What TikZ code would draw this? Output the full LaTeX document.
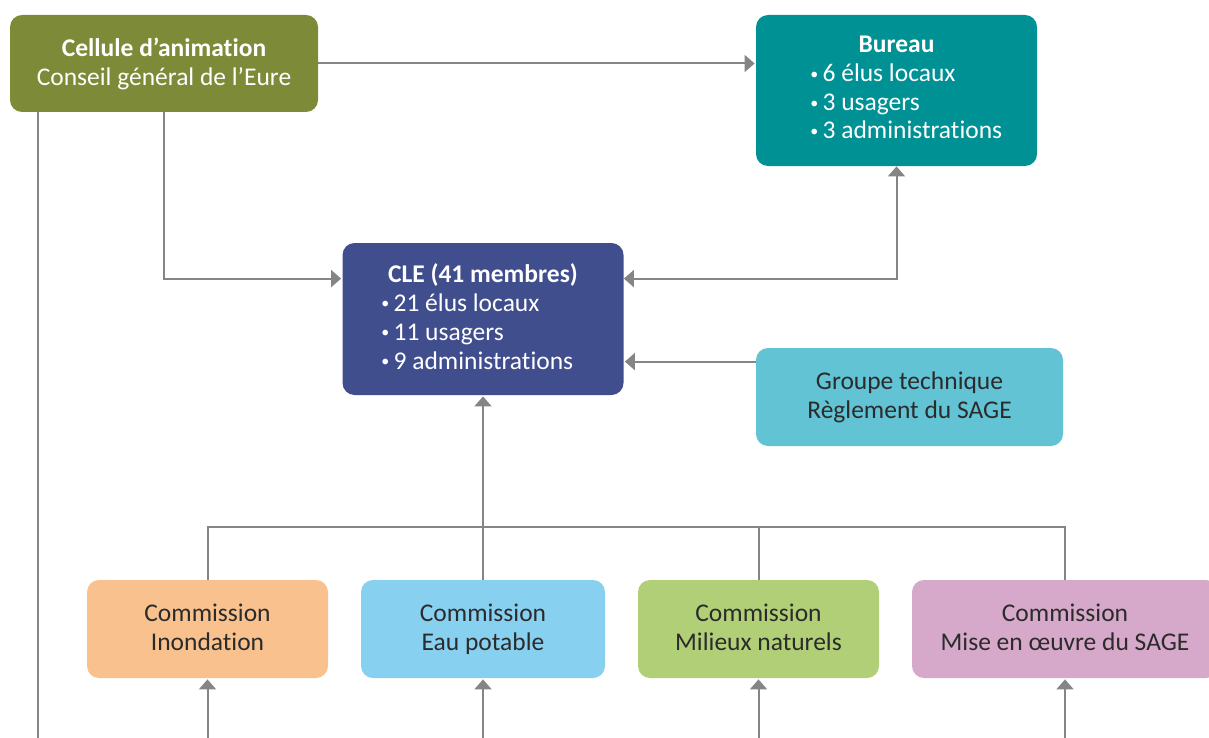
\documentclass[tikz,border=0pt]{standalone}
\usepackage{fontspec}
\setmainfont{Carlito}[Ligatures=NoCommon]
\usetikzlibrary{arrows.meta}
\definecolor{cellule}{HTML}{7D8A37}
\definecolor{bureau}{HTML}{009194}
\definecolor{cle}{HTML}{414E8E}
\definecolor{groupe}{HTML}{62C3D5}
\definecolor{inondation}{HTML}{F8C18E}
\definecolor{eau}{HTML}{88D0F0}
\definecolor{milieux}{HTML}{B1CF77}
\definecolor{mise}{HTML}{D6A8C9}
\definecolor{trait}{HTML}{858585}
\definecolor{texte}{HTML}{2B2B2B}
\newcommand{\pastille}{\raisebox{1.2pt}{\fontsize{8}{8}\selectfont•}\,}
\tikzset{
  boite/.style={rounded corners=6pt, inner sep=0pt, align=center, text=texte,
    font=\fontsize{12.75}{14.5}\selectfont, execute at end node=\vphantom{p}},
  sombre/.style={boite, text=white},
  titre/.style={inner sep=0pt, text=white, anchor=base,
    font=\fontsize{12.75}{14.5}\selectfont\bfseries},
  puce/.style={inner sep=0pt, text=white, anchor=base west,
    font=\fontsize{12.75}{14.5}\selectfont},
  lien/.style={draw=trait, line width=1pt},
  fleche/.style={lien, ->, shorten >=0.5pt},
}
\begin{document}
\begin{tikzpicture}[x=0.5pt, y=-0.5pt, >={Triangle[length=5pt,width=8.5pt]}]
\clip (0,0) rectangle (1209,738);
% haut
\node[sombre, fill=cellule, minimum width=154pt, minimum height=48.5pt] (cellule) at (164,63.5)
  {\textbf{Cellule d’animation}\\Conseil général de l’Eure};
\node[sombre, fill=bureau, minimum width=140.5pt, minimum height=75.5pt] (bureau) at (896.5,90.5) {};
\node[titre] (bureau-titre) at (896.5,53) {Bureau};
\foreach \texte/\y [count=\i] in {6 élus locaux/82, 3 usagers/111, 3 administrations/139}
  \node[puce] (bureau-\i) at (810,\y) {\pastille\texte};
% milieu
\node[sombre, fill=cle, minimum width=140.5pt, minimum height=76pt] (cle) at (483,319) {};
\node[titre] (cle-titre) at (483,282) {CLE (41 membres)};
\foreach \texte/\y [count=\i] in {21 élus locaux/311, 11 usagers/340, 9 administrations/369}
  \node[puce] (cle-\i) at (381,\y) {\pastille\texte};
\node[boite, fill=groupe, minimum width=153.5pt, minimum height=49pt] (groupe) at (909.5,397)
  {Groupe technique\\Règlement du SAGE};
% commissions
\node[boite, fill=inondation, minimum width=120.5pt, minimum height=49pt] (inondation) at (207.5,629)
  {Commission\\Inondation};
\node[boite, fill=eau, minimum width=122pt, minimum height=49pt] (eau) at (483,629)
  {Commission\\Eau potable};
\node[boite, fill=milieux, minimum width=120.5pt, minimum height=49pt] (milieux) at (758.5,629)
  {Commission\\Milieux naturels};
\node[boite, fill=mise, minimum width=153pt, minimum height=49pt] (mise) at (1065,629)
  {Commission\\Mise en œuvre du SAGE};
\coordinate (bus) at (483,527);
\coordinate (bas) at (0,750);
% liens
\draw[fleche] (cellule.east) -- (cellule.east -| bureau.west);
\draw[fleche] (cellule.south) |- ([yshift=-18pt]cle.north west);
\draw[lien, <->] ([yshift=-18pt]cle.north east) -| (bureau.south);
\draw[fleche] ([yshift=-7pt]groupe.north west) -- ([yshift=-7pt]groupe.north west -| cle.east);
\draw[fleche] (eau.north) -- (cle.south);
\draw[lien] (inondation.north) |- (bus) -| (mise.north);
\draw[lien] (milieux.north) -- (milieux.north |- bus);
\draw[lien] ([xshift=14pt]cellule.south west) -- ([xshift=14pt]cellule.south west |- bas);
\foreach \n in {inondation, eau, milieux, mise}
  \draw[fleche] (\n.south |- bas) -- (\n.south);
\end{tikzpicture}
\end{document}
